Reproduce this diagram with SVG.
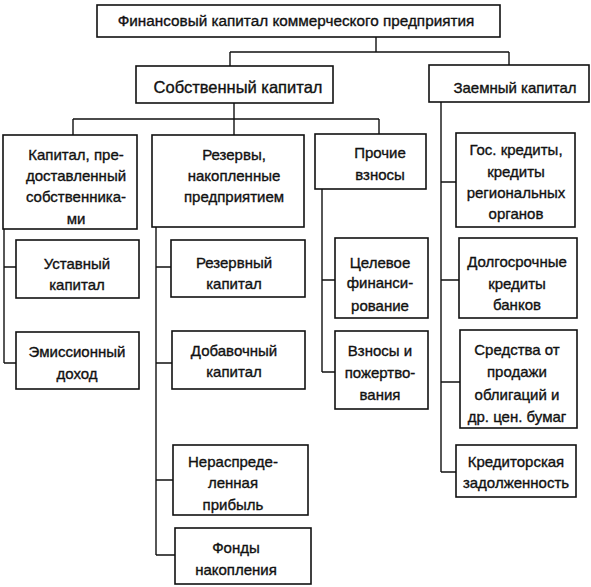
<svg xmlns="http://www.w3.org/2000/svg" width="591" height="587" viewBox="0 0 591 587">
<style>
.box{fill:#fff;stroke:#111;stroke-width:1.6}
.ln{fill:none;stroke:#111;stroke-width:1.4}
text{font-family:"Liberation Sans",Arial,sans-serif;font-size:15px;fill:#111;stroke:#111;stroke-width:0.35;text-anchor:middle}
</style>
<rect width="591" height="587" fill="#fff"/>
<g id="connectors" class="ln">
<path d="M376 37V52M230 52H509M230 52V66M509 52V65"/>
<path d="M234 103V135M73 119H379M73 119V135M379 119V134"/>
<path d="M4 229V363M4 267H16M4 363H16"/>
<path d="M156 227V555M156 267H171M156 363H172M156 480H173M156 555H175"/>
<path d="M322 189V372M322 280H335M322 372H335"/>
<path d="M441 102V472M441 182H456M441 280H459M441 382H460M441 472H456"/>
</g>
<g id="n-top"><rect class="box" x="97" y="5" width="403" height="32"/><text x="296" y="26" style="font-size:15.3px">Финансовый капитал коммерческого предприятия</text></g>
<g id="n-own"><rect class="box" x="136" y="66" width="197" height="37"/><text x="238" y="93" style="font-size:16.5px">Собственный капитал</text></g>
<g id="n-loan"><rect class="box" x="429" y="65" width="160" height="37"/><text x="515" y="93">Заемный капитал</text></g>
<g id="n-owners"><rect class="box" x="3" y="135" width="134" height="94"/><text x="76" y="160">Капитал, пре-</text><text x="76" y="181">доставленный</text><text x="76" y="202">собственника-</text><text x="76" y="224">ми</text></g>
<g id="n-reserves"><rect class="box" x="152" y="135" width="152" height="92"/><text x="234" y="160">Резервы,</text><text x="234" y="181">накопленные</text><text x="234" y="202">предприятием</text></g>
<g id="n-other"><rect class="box" x="315" y="134" width="111" height="55"/><text x="380" y="158">Прочие</text><text x="380" y="180">взносы</text></g>
<g id="n-gov"><rect class="box" x="456" y="133" width="119" height="94"/><text x="516" y="155">Гос. кредиты,</text><text x="516" y="177">кредиты</text><text x="516" y="198">региональных</text><text x="516" y="219">органов</text></g>
<g id="n-charter"><rect class="box" x="16" y="240" width="123" height="58"/><text x="77" y="269">Уставный</text><text x="77" y="290">капитал</text></g>
<g id="n-emission"><rect class="box" x="16" y="332" width="123" height="57"/><text x="77" y="357">Эмиссионный</text><text x="77" y="379">доход</text></g>
<g id="n-reservecap"><rect class="box" x="171" y="240" width="134" height="57"/><text x="234" y="268">Резервный</text><text x="234" y="289">капитал</text></g>
<g id="n-additional"><rect class="box" x="172" y="331" width="133" height="58"/><text x="234" y="356">Добавочный</text><text x="234" y="377">капитал</text></g>
<g id="n-retained"><rect class="box" x="173" y="445" width="135" height="70"/><text x="233" y="467">Нераспреде-</text><text x="233" y="488">ленная</text><text x="233" y="510">прибыль</text></g>
<g id="n-funds"><rect class="box" x="175" y="528" width="136" height="56"/><text x="236" y="553">Фонды</text><text x="236" y="575">накопления</text></g>
<g id="n-target"><rect class="box" x="335" y="238" width="93" height="80"/><text x="380" y="268">Целевое</text><text x="380" y="288">финанси-</text><text x="380" y="311">рование</text></g>
<g id="n-donations"><rect class="box" x="335" y="331" width="93" height="78"/><text x="380" y="356">Взносы и</text><text x="380" y="378">пожертво-</text><text x="380" y="400">вания</text></g>
<g id="n-longterm"><rect class="box" x="459" y="238" width="118" height="80"/><text x="517" y="267">Долгосрочные</text><text x="517" y="289">кредиты</text><text x="517" y="310">банков</text></g>
<g id="n-bonds"><rect class="box" x="460" y="330" width="117" height="98"/><text x="517" y="355">Средства от</text><text x="517" y="377">продажи</text><text x="517" y="400">облигаций и</text><text x="517" y="422">др. цен. бумаг</text></g>
<g id="n-payables"><rect class="box" x="456" y="445" width="120" height="52"/><text x="516" y="467">Кредиторская</text><text x="516" y="488">задолженность</text></g>
</svg>
